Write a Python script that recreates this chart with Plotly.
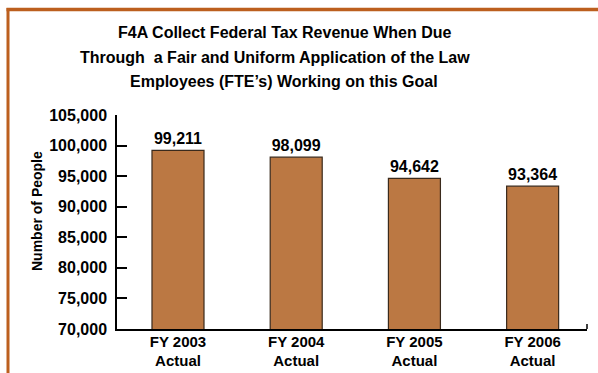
import plotly.graph_objects as go

categories = ["FY 2003<br>Actual", "FY 2004<br>Actual", "FY 2005<br>Actual", "FY 2006<br>Actual"]
values = [99211, 98099, 94642, 93364]
value_labels = ["99,211", "98,099", "94,642", "93,364"]
y_ticks = [70000, 75000, 80000, 85000, 90000, 95000, 100000, 105000]
y_tick_labels = ["70,000", "75,000", "80,000", "85,000", "90,000", "95,000", "100,000", "105,000"]
title_lines = [
    "F4A Collect Federal Tax Revenue When Due",
    "Through  a Fair and Uniform Application of the Law",
    "Employees (FTE’s) Working on this Goal",
]
y_title = "Number of People"

FONT = "Liberation Sans, Arial, Helvetica, sans-serif"
BORDER = "#BC5F1E"

fig = go.Figure(go.Bar(
    x=list(range(len(categories))), y=values,
    text=["<b>%s</b>" % s for s in value_labels], textposition="outside", cliponaxis=False,
    textfont=dict(family=FONT, size=16, color="black"),
    marker=dict(color="#BB7843", line=dict(color="#3a2a1c", width=1.2)),
    width=0.44,
))

L, R, T, B = 117, 11, 115, 44
W, H = 598, 373
pw, ph = W - L - R, H - T - B

def px(x):
    return (x - L) / pw

def py(y):
    return (H - B - y) / ph

annotations = []
for line, cx, cy in zip(title_lines, [284.5, 275, 283.5], [32, 57, 82]):
    annotations.append(dict(
        text="<b>%s</b>" % line.replace("  ", "&nbsp; "), xref="paper", yref="paper",
        x=px(cx), y=py(cy), xanchor="center", yanchor="middle", showarrow=False,
        font=dict(family=FONT, size=16, color="black"),
    ))
annotations.append(dict(
    text="<b>%s</b>" % y_title, xref="paper", yref="paper", x=px(37), y=py(211),
    xanchor="center", yanchor="middle", textangle=-90, showarrow=False,
    font=dict(family=FONT, size=14, color="black"),
))

fig.update_layout(
    width=W, height=H,
    margin=dict(l=L, r=R, t=T, b=B, pad=0),
    paper_bgcolor="white", plot_bgcolor="white",
    showlegend=False,
    font=dict(family=FONT, color="black"),
    xaxis=dict(
        range=[-0.516, 3.46], tickmode="array", automargin=False,
        tickvals=list(range(len(categories))), ticktext=["<b>%s</b>" % c for c in categories],
        tickfont=dict(family=FONT, size=15), showgrid=False, zeroline=False,
        showline=True, linecolor="black", linewidth=1.5, ticks="",
        ticklabelstandoff=-2,
    ),
    yaxis=dict(
        range=[70000, 105000], tickmode="array", tickvals=y_ticks, automargin=False,
        ticktext=["<b>%s</b>" % t for t in y_tick_labels],
        tickfont=dict(family=FONT, size=16), showgrid=False, zeroline=False,
        showline=True, linecolor="black", linewidth=1.5,
        ticks="inside", ticklen=10, tickcolor="black", tickwidth=1.5,
        ticklabelstandoff=5,
    ),
    annotations=annotations,
    shapes=[
        dict(type="line", xref="paper", yref="paper", x0=px(6.5), x1=px(598), y0=py(9.5), y1=py(9.5),
             line=dict(color=BORDER, width=3.5), layer="above"),
        dict(type="line", xref="paper", yref="paper", x0=px(8), x1=px(8), y0=py(8), y1=py(373),
             line=dict(color=BORDER, width=3), layer="above"),
        dict(type="line", xref="paper", yref="paper", x0=1, x1=1, y0=0, y1=py(324),
             line=dict(color="black", width=1.5)),
    ],
)

fig.write_html(
    "out.html",
    config={"displayModeBar": False},
    post_script="document.body.style.margin='0';document.body.style.padding='0';",
)
